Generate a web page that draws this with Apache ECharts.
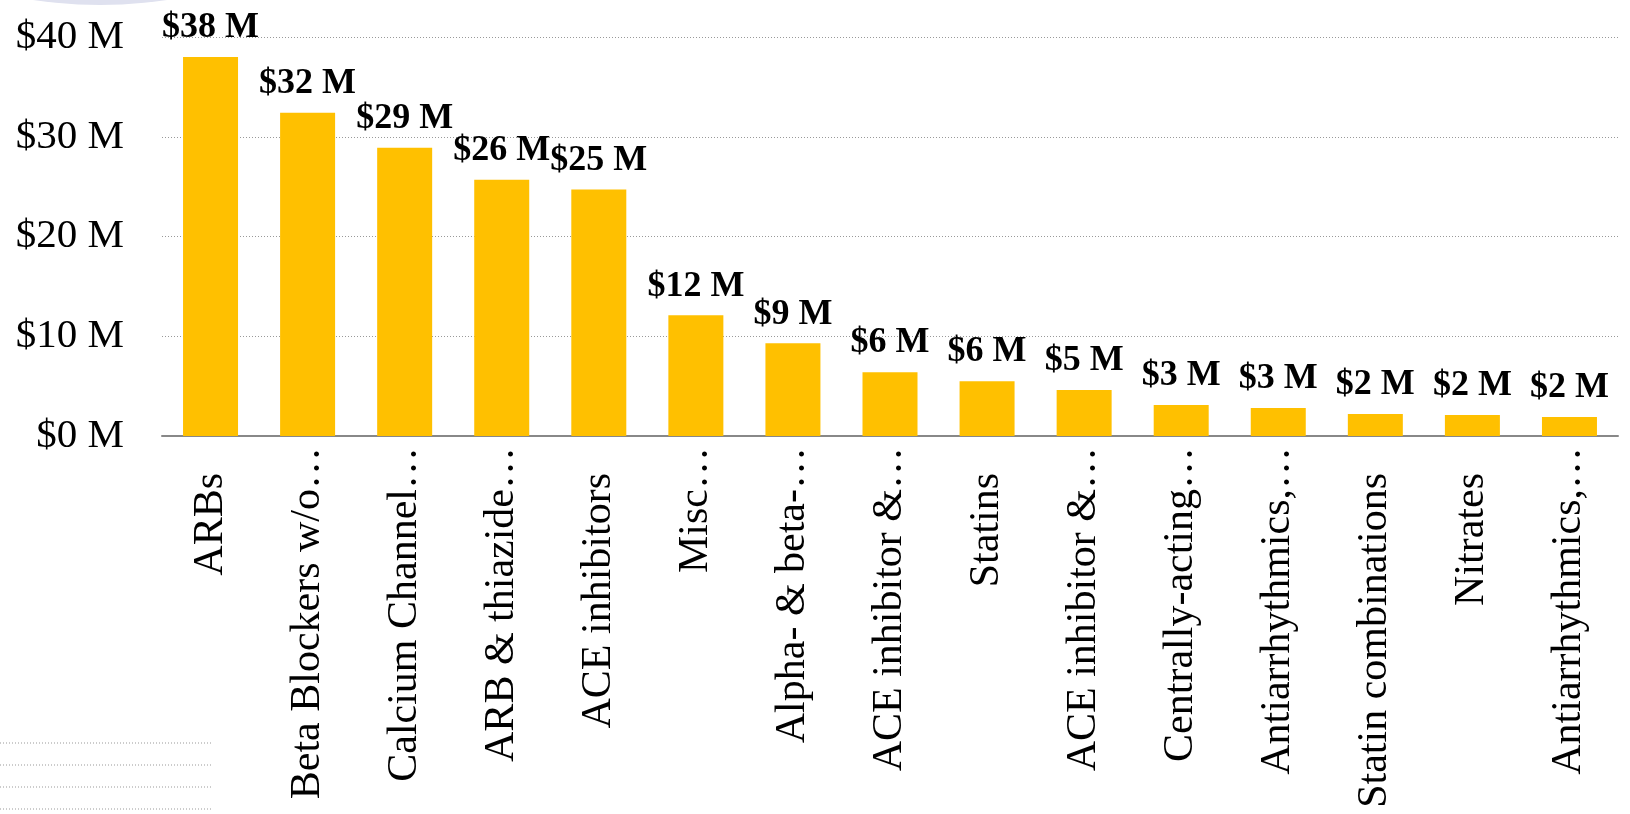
<!DOCTYPE html>
<html>
<head>
<meta charset="utf-8">
<script src="https://cdn.jsdelivr.net/npm/echarts@6/dist/echarts.min.js"></script>
<style>
  html, body { margin: 0; padding: 0; background: #fff; }
  #chart { width: 1630px; height: 814px; }
</style>
</head>
<body>
<div id="chart"></div>
<script>
// categories (truncated ones keep their ellipsis)
var categories = [
  'ARBs', 'Beta Blockers w/o…', 'Calcium Channel…', 'ARB & thiazide…',
  'ACE inhibitors', 'Misc…', 'Alpha- & beta-…', 'ACE inhibitor &…',
  'Statins', 'ACE inhibitor &…', 'Centrally-acting…', 'Antiarrhythmics,…',
  'Statin combinations', 'Nitrates', 'Antiarrhythmics,…'
]
// spend in $ millions
var spend = [38.0, 32.4, 28.9, 25.7, 24.7, 12.1, 9.3, 6.4, 5.5, 4.6, 3.1, 2.8, 2.2, 2.1, 1.9]
var yTicks = [0, 10, 20, 30, 40]

var serif = '"Liberation Serif", "DejaVu Serif", serif'
var myChart = echarts.init(document.getElementById('chart'))

var option = {
  animation: false,
  grid: { left: 162, right: 12, top: 37, bottom: 378 },
  graphic: [
    {
      type: 'circle',
      shape: { cx: 100, cy: -446, r: 451 },
      style: { fill: '#dfe1ef' },
      z: -10
    },
    {
      type: 'group',
      children: [743, 765, 787, 809].map(function(y) {
        return {
          type: 'line',
          shape: { x1: 0, y1: y, x2: 211, y2: y },
          style: { stroke: '#999', lineWidth: 1, lineDash: [1, 2] }
        }
      })
    }
  ],
  xAxis: {
    type: 'category',
    data: categories,
    axisTick: { show: false },
    axisLine: { lineStyle: { color: '#888', width: 2 } },
    axisLabel: {
      rotate: 90,
      interval: 0,
      margin: 11,
      color: '#000',
      fontFamily: serif,
      fontSize: 42,
      formatter: function(v) {
        if (v.indexOf('…') >= 0) return v
        return '{p|' + v + '}'
      },
      rich: {
        p: { fontFamily: serif, fontSize: 42, color: '#000', padding: [0, 26, 0, 0] }
      }
    }
  },
  yAxis: {
    type: 'value',
    min: yTicks[0],
    max: yTicks[yTicks.length - 1],
    interval: 10,
    axisLine: { show: false },
    axisTick: { show: false },
    splitLine: { lineStyle: { color: '#999', type: [1, 2], width: 1 } },
    axisLabel: {
      margin: 38,
      color: '#000',
      fontFamily: serif,
      fontSize: 41,
      formatter: function(v) { return '$' + v + ' M' }
    }
  },
  series: [
    {
      type: 'bar',
      data: spend,
      barWidth: 55,
      itemStyle: { color: '#FFC000' },
      label: {
        show: true,
        position: 'top',
        distance: 11,
        color: '#000',
        fontFamily: serif,
        fontWeight: 'bold',
        fontSize: 36,
        formatter: function(p) { return '$' + Math.round(p.value) + ' M' }
      }
    }
  ]
}
myChart.setOption(option)
window.onresize = () => {
  myChart && myChart.resize()
}
</script>
</body>
</html>
